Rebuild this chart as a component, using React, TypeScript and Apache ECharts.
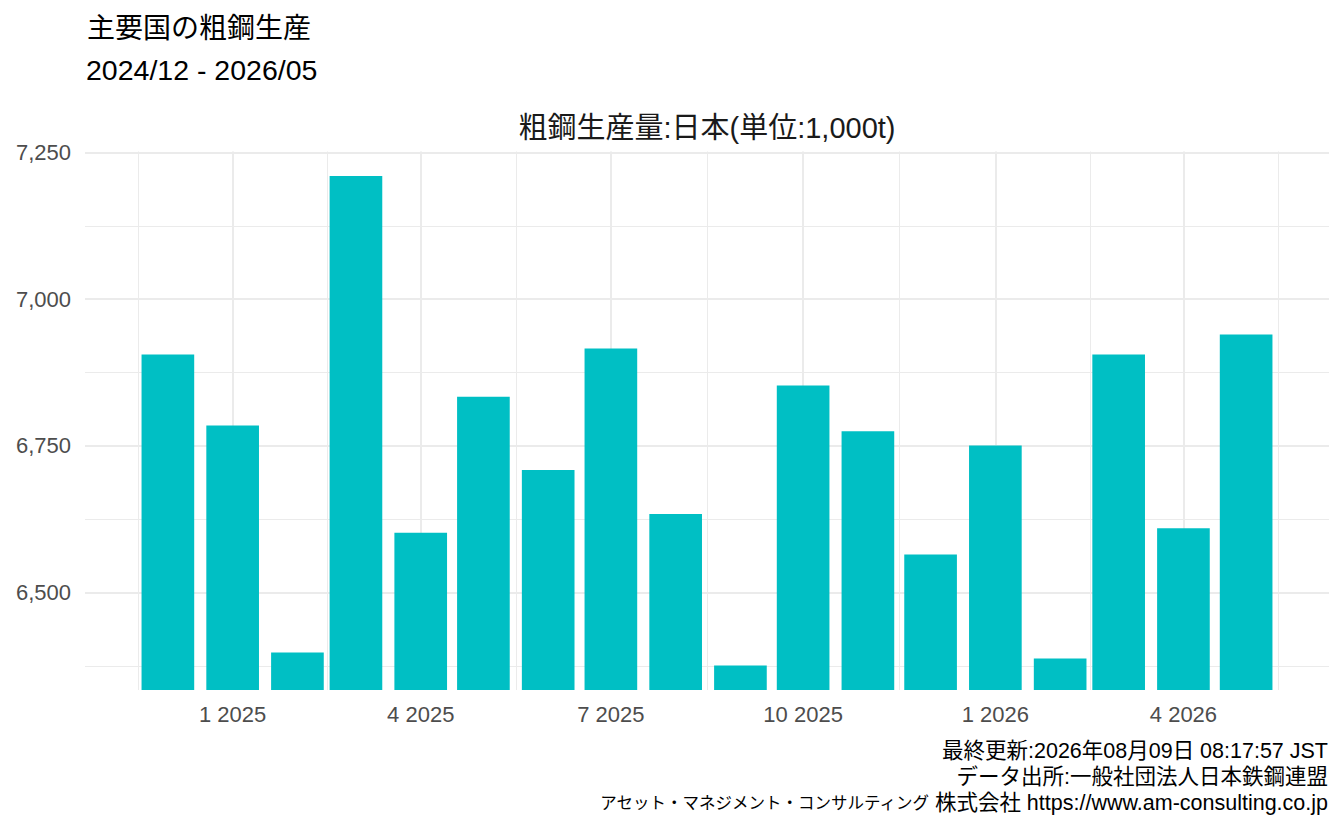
import React, { useEffect, useRef } from "react";
import * as echarts from "echarts";

// ---- data ----
const MONTHS = [
  "2024-12", "2025-01", "2025-02", "2025-03", "2025-04", "2025-05",
  "2025-06", "2025-07", "2025-08", "2025-09", "2025-10", "2025-11",
  "2025-12", "2026-01", "2026-02", "2026-03", "2026-04", "2026-05",
];
const VALUES = [
  6906, 6785, 6398, 7210, 6602, 6834,
  6709, 6916, 6634, 6376, 6853, 6775,
  6565, 6751, 6388, 6906, 6610, 6940,
];
const X_MAJOR = ["2025-01-01", "2025-04-01", "2025-07-01", "2025-10-01", "2026-01-01", "2026-04-01"];
const X_MINOR = [
  "2024-11-17T00:00:00Z", "2025-02-15T12:00:00Z", "2025-05-16T12:00:00Z", "2025-08-16T00:00:00Z",
  "2025-11-16T00:00:00Z", "2026-02-15T12:00:00Z", "2026-05-16T12:00:00Z",
];
const Y_MAJOR = [6500, 6750, 7000, 7250];
const Y_MINOR = [6375, 6625, 6875, 7125];

const TITLE = "主要国の粗鋼生産";
const SUBTITLE = "2024/12 - 2026/05";
const CHART_TITLE = "粗鋼生産量:日本(単位:1,000t)";

const W = 1344;
const H = 830;
const FONT = "'Liberation Sans', Arial, 'Noto Sans CJK JP', sans-serif";

const ts = (s: string) => Date.parse(s.length === 7 ? s + "-01T00:00:00Z" : s.length === 10 ? s + "T00:00:00Z" : s);

export default function App() {
  const ref = useRef<HTMLDivElement>(null);

  useEffect(() => {
    if (!ref.current) return;
    const chart = echarts.init(ref.current, undefined, { renderer: "svg" });

    const DAY = 86400000;
    const times = MONTHS.map(ts);
    const barDays = 0.9 * 28;
    const lo = times[0] - (barDays / 2) * DAY;
    const hi = times[times.length - 1] + (barDays / 2) * DAY;
    const xMin = lo - 0.05 * (hi - lo);
    const xMax = hi + 0.05 * (hi - lo);

    const vMin = Math.min(...VALUES);
    const vMax = Math.max(...VALUES);
    const yMin = vMin - 0.05 * (vMax - vMin);
    const yMax = vMax + 0.05 * (vMax - vMin);

    const gridLeft = 85;
    const gridRight = 15;
    const gridW = W - gridLeft - gridRight;
    const barWidth = ((barDays * DAY) / (xMax - xMin)) * gridW;

    const grid = "#EBEBEB";
    const xMajor = X_MAJOR.map(ts);
    const xMinor = X_MINOR.map(ts);

    const hiddenLine = { show: false };

    const option: any = {
      animation: false,
      backgroundColor: "#ffffff",
      grid: {
        left: gridLeft,
        right: gridRight,
        top: 151.5,
        bottom: 140,
        containLabel: false,
        outerBoundsMode: "none",
      },
      xAxis: [
        {
          type: "value",
          min: xMin,
          max: xMax,
          scale: true,
          axisLine: hiddenLine,
          axisTick: { show: false, customValues: xMajor },
          axisLabel: {
            customValues: xMajor,
            color: "#4D4D4D",
            fontSize: 22,
            fontFamily: FONT,
            margin: 13,
            formatter: (v: number) => {
              const d = new Date(v);
              return `${d.getUTCMonth() + 1} ${d.getUTCFullYear()}`;
            },
          },
          splitLine: { show: true, lineStyle: { color: grid, width: 2 } },
        },
        {
          type: "value",
          min: xMin,
          max: xMax,
          scale: true,
          position: "bottom",
          axisLine: hiddenLine,
          axisTick: { show: false, customValues: xMinor },
          axisLabel: { show: false, customValues: xMinor },
          splitLine: { show: true, lineStyle: { color: grid, width: 1 } },
        },
      ],
      yAxis: [
        {
          type: "value",
          min: yMin,
          max: yMax,
          scale: true,
          axisLine: hiddenLine,
          axisTick: { show: false, customValues: Y_MAJOR },
          axisLabel: {
            customValues: Y_MAJOR,
            color: "#4D4D4D",
            fontSize: 22,
            fontFamily: FONT,
            margin: 14,
            padding: [7, 0, 0, 0],
            formatter: (v: number) => v.toLocaleString("en-US"),
          },
          splitLine: { show: true, lineStyle: { color: grid, width: 2 } },
        },
        {
          type: "value",
          min: yMin,
          max: yMax,
          scale: true,
          position: "left",
          axisLine: hiddenLine,
          axisTick: { show: false, customValues: Y_MINOR },
          axisLabel: { show: false, customValues: Y_MINOR },
          splitLine: { show: true, lineStyle: { color: grid, width: 1 } },
        },
      ],
      series: [
        {
          type: "bar",
          xAxisIndex: 0,
          yAxisIndex: 0,
          data: times.map((t, i) => [t, VALUES[i]]),
          barWidth,
          clip: true,
          silent: true,
          itemStyle: { color: "#00BFC4" },
        },
      ],
      graphic: [
        {
          type: "text",
          x: 87,
          y: 28,
          style: {
            text: TITLE,
            fontSize: 28,
            fontFamily: FONT,
            fill: "#000000",
            textAlign: "left",
            textVerticalAlign: "middle",
          },
        },
        {
          type: "text",
          x: 86,
          y: 70,
          style: {
            text: SUBTITLE,
            fontSize: 28.5,
            fontFamily: FONT,
            fill: "#000000",
            textAlign: "left",
            textVerticalAlign: "middle",
          },
        },
        {
          type: "text",
          x: gridLeft + gridW / 2,
          y: 128,
          style: {
            text: CHART_TITLE,
            fontSize: 29,
            fontFamily: FONT,
            fill: "#1a1a1a",
            textAlign: "center",
            textVerticalAlign: "middle",
          },
        },
        {
          type: "text",
          x: 1328,
          y: 751,
          style: {
            text: "最終更新:2026年08月09日 08:17:57 JST",
            fontSize: 21.5,
            fontFamily: FONT,
            fill: "#000000",
            textAlign: "right",
            textVerticalAlign: "middle",
          },
        },
        {
          type: "text",
          x: 1328,
          y: 777,
          style: {
            text: "データ出所:一般社団法人日本鉄鋼連盟",
            fontSize: 21.5,
            fontFamily: FONT,
            fill: "#000000",
            textAlign: "right",
            textVerticalAlign: "middle",
          },
        },
        {
          type: "text",
          x: 1328,
          y: 803,
          style: {
            text: "{k|アセット・マネジメント・コンサルティング} {n|株式会社 https://www.am-consulting.co.jp}",
            fontSize: 21.5,
            fontFamily: FONT,
            fill: "#000000",
            textAlign: "right",
            textVerticalAlign: "middle",
            rich: {
              k: { fontSize: 16.5, fontFamily: FONT, fill: "#000000" },
              n: { fontSize: 21.5, fontFamily: FONT, fill: "#000000" },
            },
          },
        },
      ],
    };

    chart.setOption(option);
    return () => chart.dispose();
  }, []);

  return (
    <div
      ref={ref}
      style={{ position: "absolute", left: 0, top: 0, width: W, height: H, background: "#fff" }}
    />
  );
}
